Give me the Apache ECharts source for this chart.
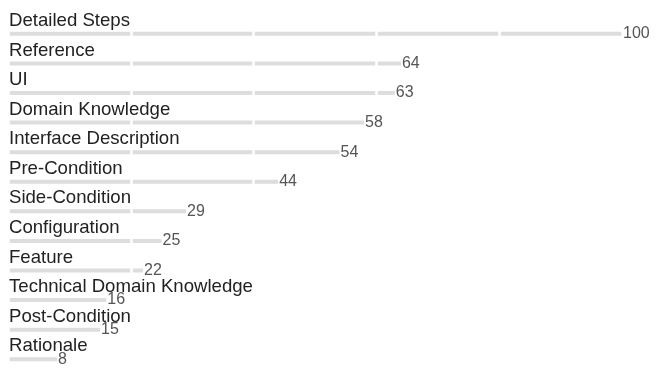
<!DOCTYPE html>
<html>
<head>
<meta charset="utf-8">
<script src="https://cdn.jsdelivr.net/npm/echarts@6/dist/echarts.min.js"></script>
<style>html,body{margin:0;padding:0;background:#fff}#c{width:664px;height:374px}</style>
</head>
<body>
<div id="c"></div>
<script>
const categories = ["Detailed Steps","Reference","UI","Domain Knowledge","Interface Description","Pre-Condition","Side-Condition","Configuration","Feature","Technical Domain Knowledge","Post-Condition","Rationale"];
const values = [100,64,63,58,54,44,29,25,22,16,15,8];

const font = 'Liberation Sans, Arial, Helvetica, sans-serif';
const chart = echarts.init(document.getElementById('c'), null, {renderer:'canvas'});
chart.setOption({
  animation:false,
  grid:{left:8,right:42,top:19,height:360,containLabel:false},
  xAxis:{type:'value',min:0,max:100,interval:20,z:2,
    axisLine:{show:false},axisTick:{show:false},axisLabel:{show:false},
    splitLine:{show:true,lineStyle:{color:'#ffffff',width:2.5}}},
  yAxis:{type:'category',data:categories,inverse:true,z:5,
    axisLine:{show:false},axisTick:{show:false},
    axisLabel:{inside:true,margin:1,color:'#222',fontSize:18.6,fontFamily:font,
      verticalAlign:'bottom',lineHeight:20,padding:[0,0,3,0]}},
  series:[
    {type:'bar',data:values,barWidth:4,z:1,itemStyle:{color:'#dddddd'}},
    {type:'bar',data:values,barWidth:4,barGap:'-100%',z:5,itemStyle:{color:'rgba(0,0,0,0)'},
     label:{show:true,position:'right',distance:1,color:'#555',fontSize:16,fontFamily:font}}
  ]
});
</script>
</body>
</html>
